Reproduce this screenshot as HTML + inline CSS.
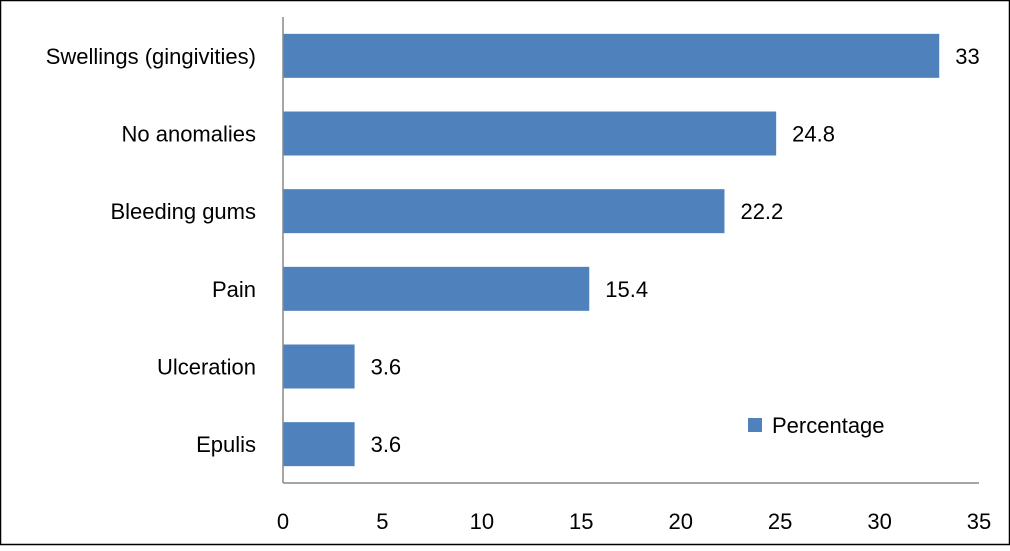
<!DOCTYPE html>
<html><head><meta charset="utf-8"><style>
html,body{margin:0;padding:0;background:#fff}
svg text{font-family:"Liberation Sans",sans-serif;font-size:22px;fill:#000}
</style></head><body>
<svg id="chart" width="1010" height="546" xmlns="http://www.w3.org/2000/svg">
<rect x="0.5" y="0.5" width="1009" height="544" fill="#fff" stroke="#000" stroke-width="1.5"/>
<g id="marks"></g>
<line x1="283" y1="17" x2="283" y2="483" stroke="#888" stroke-width="1.5"/>
<line x1="283" y1="483" x2="979" y2="483" stroke="#888" stroke-width="1.5"/>
<g>
<rect x="748" y="418" width="14" height="14" fill="#4f81bd"/>
<text x="772" y="433">Percentage</text>
</g>
</svg>
<script>
const categories=["Swellings (gingivities)","No anomalies","Bleeding gums","Pain","Ulceration","Epulis"];
const values=[33,24.8,22.2,15.4,3.6,3.6];
const valueLabels=["33","24.8","22.2","15.4","3.6","3.6"];
const xTicks=[0,5,10,15,20,25,30,35];
const x0=283,x1=979,xMax=35,yTop=17,yBottom=483;
const xs=v=>x0+(v/xMax)*(x1-x0);
const band=(yBottom-yTop)/categories.length;
const ys=i=>yTop+band*i+band/2;
const ns="http://www.w3.org/2000/svg";
const g=document.getElementById('marks');
function mk(t,a){const e=document.createElementNS(ns,t);for(const k in a)e.setAttribute(k,a[k]);g.appendChild(e);return e;}
categories.forEach((c,i)=>{
 const bh=44,cy=ys(i);
 const r=mk('rect',{x:x0,y:cy-bh/2,width:xs(values[i])-x0,height:bh,fill:'#4f81bd'});
 
 
 const l=mk('text',{x:256,y:cy+8,'text-anchor':'end'});l.textContent=c;
 
 
 const v=mk('text',{x:xs(values[i])+16,y:cy+8});v.textContent=valueLabels[i];
 
 
});
xTicks.forEach(t=>{
 const e=mk('text',{x:xs(t),y:529,'text-anchor':'middle'});e.textContent=t;
 
 
});
</script>
</body></html>
